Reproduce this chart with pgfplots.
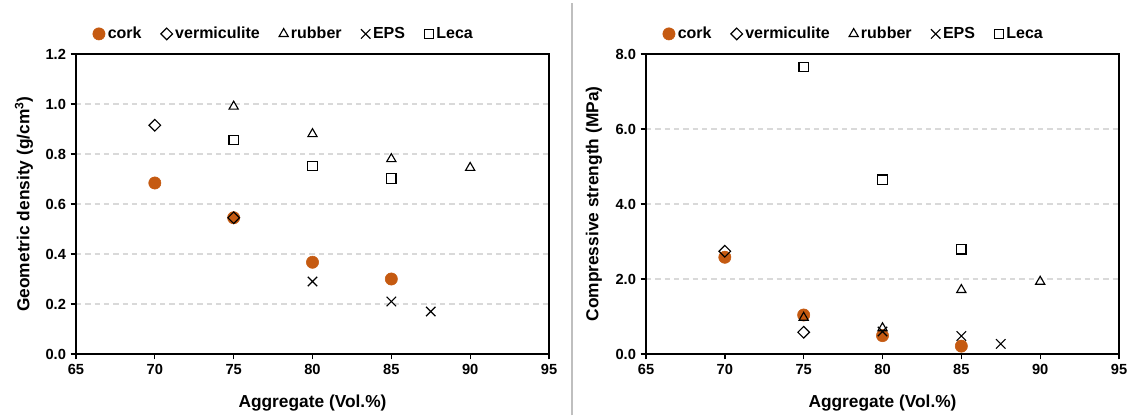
\documentclass[border=0pt]{standalone}
\usepackage{fontspec}
\setmainfont{Liberation Sans}
\usepackage{pgfplots}
\pgfplotsset{compat=1.18}
\definecolor{corkc}{RGB}{197,90,17}
\definecolor{gridc}{RGB}{217,217,217}
\definecolor{sepc}{RGB}{191,191,191}
\pgfplotsset{
  myaxis/.style={
    scale only axis, width=354.75pt, height=225pt,
    xmin=65, xmax=95, xtick={65,70,...,95},
    axis line style={line width=1.1pt},
    tick style={line width=1pt, black},
    tick align=outside, major tick length=4pt,
    xtick pos=bottom, ytick pos=left,
    ymajorgrids,
    grid style={gridc, line width=0.8pt, dash pattern=on 4pt off 3pt},
    tick label style={font=\fontsize{11}{13}\selectfont\bfseries},
    label style={font=\fontsize{13}{15}\selectfont\bfseries},
    /pgf/number format/assume math mode=true,
    xlabel={Aggregate (Vol.\%)},
    xlabel style={at={(axis description cs:0.5,-0.163)}, anchor=center},
    ylabel style={at={(axis description cs:-0.11,0.5)}, anchor=center},
    yticklabel style={/pgf/number format/fixed, /pgf/number format/fixed zerofill, /pgf/number format/precision=1},
    legend columns=5,
    legend style={draw=none, fill=none, at={(axis description cs:0.035,1.067)}, anchor=west,
      font=\fontsize{12}{14}\selectfont\bfseries, inner xsep=0pt,
      /tikz/every odd column/.append style={column sep=0pt},
      /tikz/every even column/.append style={column sep=12.5pt}},
    legend cell align=left,
  },
  cork/.style={only marks, mark=*, mark size=4.6pt, color=corkc},
  verm/.style={only marks, mark=square, mark size=3.1pt, black, mark options={rotate=45, line width=0.85pt, fill=none}},
  rubb/.style={only marks, mark=triangle, mark size=4pt, black, mark options={line width=0.85pt, fill=none}},
  eps/.style={only marks, mark=x, mark size=5pt, black, mark options={line width=0.85pt}},
  leca/.style={only marks, mark=square, mark size=3.5pt, black, mark options={line width=0.85pt, fill=none}},
}
\begin{document}
\begin{tikzpicture}
\path[use as bounding box] (-57pt,-48pt) rectangle (793.5pt,265.5pt);
\draw[sepc, line width=1.5pt] (372pt,-46pt) -- (372pt,263pt);
\begin{axis}[myaxis, at={(0pt,0pt)}, anchor=south west,
  ymin=0, ymax=1.2, ytick={0,0.2,...,1.2},
  ylabel={Geometric density (g/cm\textsuperscript{3})}]
\addplot[cork] coordinates {(70,0.684) (75,0.545) (80,0.367) (85,0.300)};
\addlegendentry{cork}
\addplot[verm] coordinates {(70,0.915) (75,0.545)};
\addlegendentry{vermiculite}
\addplot[rubb] coordinates {(75,0.99) (80,0.88) (85,0.78) (90,0.745)};
\addlegendentry{rubber}
\addplot[eps] coordinates {(80,0.29) (85,0.21) (87.5,0.17)};
\addlegendentry{EPS}
\addplot[leca] coordinates {(75,0.855) (80,0.752) (85,0.702)};
\addlegendentry{Leca}
\end{axis}
\begin{axis}[myaxis, at={(427.5pt,0pt)}, anchor=south west,
  ymin=0, ymax=8, ytick={0,2,...,8},
  ylabel={Compressive strength (MPa)}]
\addplot[cork] coordinates {(70,2.58) (75,1.04) (80,0.49) (85,0.21)};
\addlegendentry{cork}
\addplot[verm] coordinates {(70,2.74) (75,0.58)};
\addlegendentry{vermiculite}
\addplot[rubb] coordinates {(75,0.97) (80,0.69) (85,1.71) (90,1.93)};
\addlegendentry{rubber}
\addplot[eps] coordinates {(80,0.60) (85,0.48) (87.5,0.27)};
\addlegendentry{EPS}
\addplot[leca] coordinates {(75,7.65) (80,4.65) (85,2.79)};
\addlegendentry{Leca}
\end{axis}
\end{tikzpicture}
\end{document}
